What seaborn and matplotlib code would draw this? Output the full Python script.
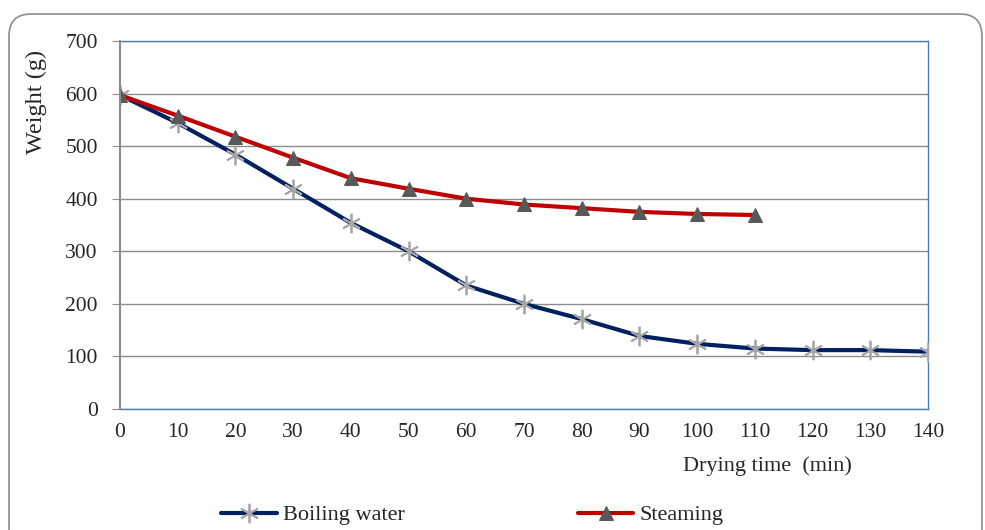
import matplotlib
matplotlib.use("Agg")
import matplotlib.pyplot as plt
from matplotlib.patches import FancyBboxPatch
import seaborn as sns
import pandas as pd

# Data
time_boiling = [0, 10, 20, 30, 40, 50, 60, 70, 80, 90, 100, 110, 120, 130, 140]
weight_boiling = [597, 544, 484, 419, 354, 300, 235, 200, 171, 139, 124, 115, 112, 112, 109]
time_steaming = [0, 10, 20, 30, 40, 50, 60, 70, 80, 90, 100, 110]
weight_steaming = [597, 558, 518, 478, 439, 419, 400, 389, 382, 375, 371, 369]
series_names = ["Boiling water", "Steaming"]
x_ticks = list(range(0, 141, 10))
y_ticks = list(range(0, 701, 100))

sns.set_style("white")
plt.rcParams['font.family'] = ['Liberation Serif', 'DejaVu Serif']

fig = plt.figure(figsize=(9.85, 5.3), dpi=100)
ax = fig.add_axes([120/985, 1-409/530, (928-120)/985, (409-41)/530])

df_b = pd.DataFrame({"t": time_boiling, "w": weight_boiling})
df_s = pd.DataFrame({"t": time_steaming, "w": weight_steaming})

sns.lineplot(data=df_b, x="t", y="w", ax=ax, color="#002060", linewidth=3,
             marker=(6, 2, 0), markersize=14, markeredgecolor="#a6a6a6",
             markerfacecolor="#a6a6a6", markeredgewidth=1.3, label=series_names[0],
             zorder=3)
sns.lineplot(data=df_s, x="t", y="w", ax=ax, color="#c00000", linewidth=3,
             marker="^", markersize=10.5, markeredgecolor="#595959",
             markerfacecolor="#595959", label=series_names[1], zorder=4)

ax.set_xlim(0, 140)
ax.set_ylim(0, 700)
ax.set_xticks(x_ticks)
ax.set_yticks(y_ticks)
ax.set_xticklabels([str(v) for v in x_ticks], fontsize=15.5)
ax.set_yticklabels([str(v) for v in y_ticks], fontsize=15.5)
ax.yaxis.grid(True, color="#8c8c8c", linewidth=1)
ax.xaxis.grid(False)
ax.set_axisbelow(True)
ax.tick_params(axis="y", which="major", length=6, color="#8c8c8c", direction="out", pad=10, left=True)
ax.tick_params(axis="x", which="major", length=0, pad=10)
ax.set_xlabel("")
ax.set_ylabel("")

for side in ["top", "right", "bottom"]:
    ax.spines[side].set_color("#4a7ebb")
    ax.spines[side].set_linewidth(1)
ax.spines["left"].set_color("#8c8c8c")
ax.spines["left"].set_linewidth(1.5)
ax.spines["left"].set_zorder(5)

ax.get_legend().remove()

fig.text(36/985, 1-102/530, "Weight (g)", rotation=90, ha="center", va="center", fontsize=17.5)
fig.text(767/985, 1-466/530, "Drying time  (min)", ha="center", va="center", fontsize=16)

handles, labels = ax.get_legend_handles_labels()
fig.legend(handles, labels, loc="center left", bbox_to_anchor=(221/985, 1-515/530), ncol=2,
           frameon=False, fontsize=16, columnspacing=7.8, handlelength=2.5,
           handletextpad=0.27, borderpad=0, borderaxespad=0)

frame = FancyBboxPatch((9, -20), 973, 536, boxstyle="round,pad=0,rounding_size=22",
                       transform=None, facecolor="none", edgecolor="#8c8c8c",
                       linewidth=1.2)
fig.patches.append(frame)

fig.savefig("out.png", dpi=100)
